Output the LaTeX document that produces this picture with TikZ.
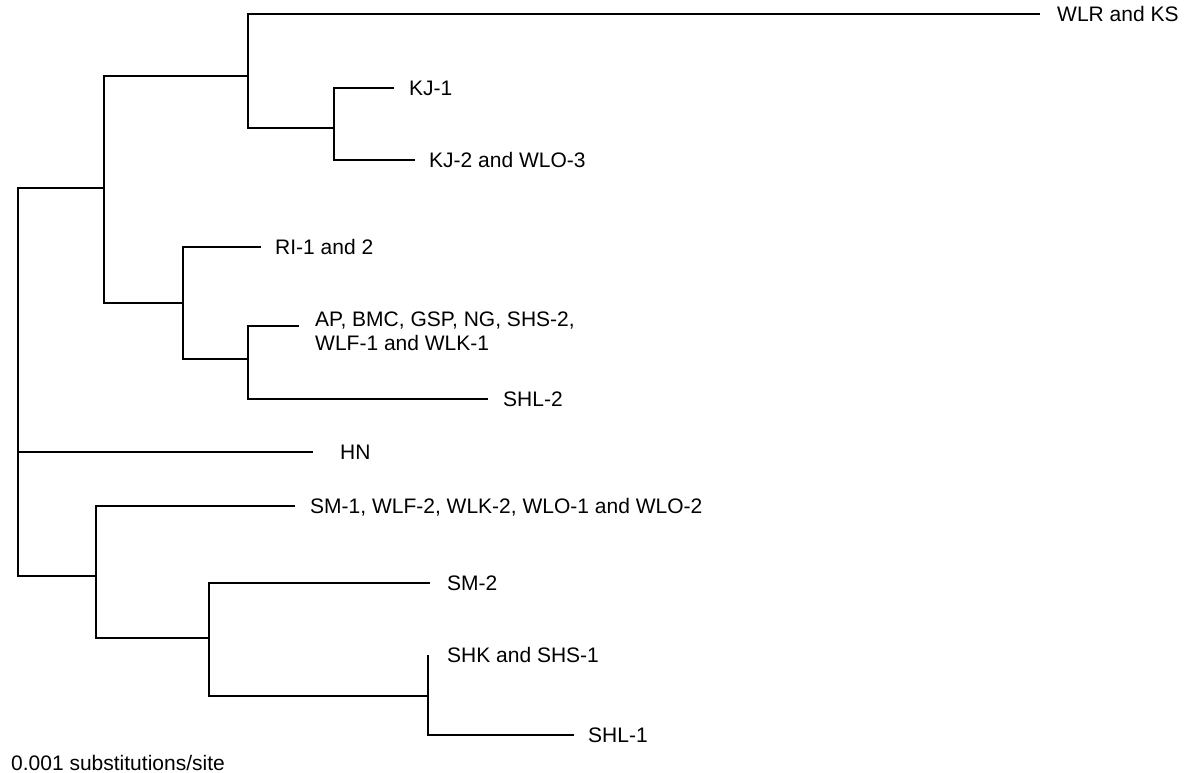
\documentclass[tikz,border=0pt]{standalone}
\usepackage{fontspec}
\setmainfont{Liberation Sans}
\begin{document}
\begin{tikzpicture}[x=1pt,y=-1pt,
  branch/.style={line width=1.9pt,line cap=butt,line join=miter},
  lab/.style={anchor=base west,inner sep=0pt,yshift=-7.5pt,
    font=\fontsize{21}{24.5}\selectfont}]
\useasboundingbox (0,0) rectangle (1184,773);
% internal nodes
\coordinate (R) at (18,382);
\coordinate (A) at (104,188);
\coordinate (B) at (248,76);
\coordinate (C) at (334,128);
\coordinate (D) at (183,303);
\coordinate (E) at (248,359);
\coordinate (F) at (96,576);
\coordinate (G) at (209,638);
\coordinate (H) at (428,696);
% tips
\coordinate (tWLR) at (1040,14);
\coordinate (tKJa) at (394,88);
\coordinate (tKJb) at (415,160);
\coordinate (tRI) at (261,247);
\coordinate (tAP) at (299,326);
\coordinate (tSHLb) at (488,399);
\coordinate (tHN) at (313,452);
\coordinate (tSMa) at (295,506);
\coordinate (tSMb) at (430,583);
\coordinate (tSHK) at (428,655);
\coordinate (tSHLa) at (574,735);
% branches
\draw[branch] (R) |- (A);
\draw[branch] (R) |- (tHN);
\draw[branch] (R) |- (F);
\draw[branch] (A) |- (B);
\draw[branch] (A) |- (D);
\draw[branch] (B) |- (tWLR);
\draw[branch] (B) |- (C);
\draw[branch] (C) |- (tKJa);
\draw[branch] (C) |- (tKJb);
\draw[branch] (D) |- (tRI);
\draw[branch] (D) |- (E);
\draw[branch] (E) |- (tAP);
\draw[branch] (E) |- (tSHLb);
\draw[branch] (F) |- (tSMa);
\draw[branch] (F) |- (G);
\draw[branch] (G) |- (tSMb);
\draw[branch] (G) |- (H);
\draw[branch] (H) -- (tSHK);
\draw[branch] (H) |- (tSHLa);
% labels
\node[lab] (lWLR) at (1057,14) {WLR and KS};
\node[lab] (lKJa) at (409,88) {KJ-1};
\node[lab] (lKJb) at (429,160) {KJ-2 and WLO-3};
\node[lab] (lRI) at (275,247) {RI-1 and 2};
\node[lab] (lAPa) at (315,319) {AP, BMC, GSP, NG, SHS-2,};
\node[lab] (lAPb) at (315,343) {WLF-1 and WLK-1};
\node[lab] (lSHLb) at (503,399) {SHL-2};
\node[lab] (lHN) at (340,452) {HN};
\node[lab] (lSMa) at (310,506) {SM-1, WLF-2, WLK-2, WLO-1 and WLO-2};
\node[lab] (lSMb) at (447,583) {SM-2};
\node[lab] (lSHK) at (447,655) {SHK and SHS-1};
\node[lab] (lSHLa) at (588,735) {SHL-1};
\node[lab] (lscale) at (11,763) {0.001 substitutions/site};
\end{tikzpicture}
\end{document}
